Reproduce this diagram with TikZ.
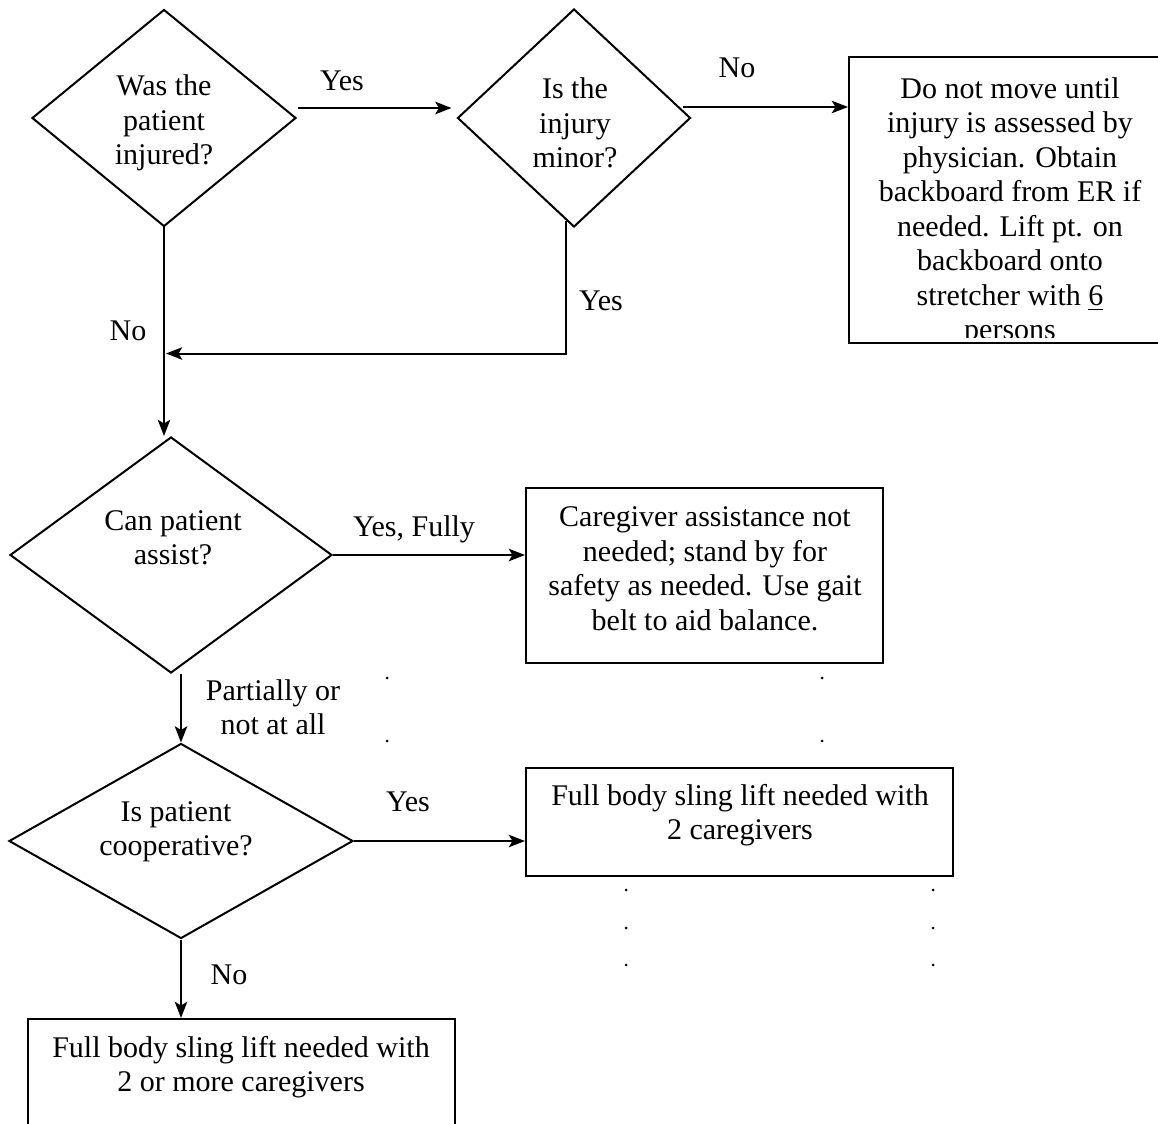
\documentclass[tikz,border=0pt]{standalone}
\usepackage{fontspec}
\setmainfont{Liberation Serif}
\usetikzlibrary{shapes.geometric,arrows,arrows.meta,positioning,calc}
\tikzstyle{decision} = [diamond, draw=black, thick, inner sep=0pt]
\tikzstyle{process} = [rectangle, draw=black, thick, inner sep=0pt]
\tikzstyle{txt} = [font=\fontsize{12}{13.8}\selectfont, align=center, inner sep=0pt]
\tikzstyle{arrow} = [thick,->,>={Stealth[length=6.5pt,width=5pt,inset=1.5pt]}]

\begin{document}
\begin{tikzpicture}[x=0.4pt,y=-0.4pt]
        \useasboundingbox (0,0) rectangle (1158,1124);
        \clip (0,0) rectangle (1158,1124);
        % questions
        \node[decision, minimum width=105.6pt, minimum height=86.8pt] (d1) at (164,118) {};
        \node[decision, minimum width=93.2pt, minimum height=87.2pt] (d2) at (574,118) {};
        \node[decision, minimum width=128.8pt, minimum height=94.4pt] (d3) at (171,555) {};
        \node[decision, minimum width=137.6pt, minimum height=78pt] (d4) at (181,841) {};
        \node[txt] (q1) at (164,123) {Was the\\patient\\injured?};
        \node[txt] (q2) at (575,123) {Is the\\injury\\minor?};
        \node[txt] (q3) at (173,538) {Can patient\\assist?};
        \node[txt] (q4) at (176,832) {Is patient\\cooperative?};
        % actions
        \node[process, minimum width=128.4pt, minimum height=114.4pt] (b1) at (1009.5,200) {};
        \node[process, minimum width=142.8pt, minimum height=70pt] (b2) at (704.5,575.5) {};
        \node[process, minimum width=170.8pt, minimum height=43.2pt] (b3) at (739.5,822) {};
        \node[process, minimum width=170.8pt, minimum height=48.4pt] (b4) at (241.5,1079.5) {};
        \begin{scope}
          \clip ($(b1.north west)+(2,0)$) rectangle ($(b1.south east)+(0,-7)$);
          \node[txt] (t1) at (1010,212) {Do not move until\\injury is assessed by\\physician. Obtain\\backboard from ER if\\needed. Lift pt. on\\backboard onto\\stretcher with \underline{6}\\persons};
        \end{scope}
        \node[txt] (t2) at (705,569) {Caregiver assistance not\\needed; stand by for\\safety as needed. Use gait\\belt to aid balance.};
        \node[txt] (t3) at (740,815) {Full body sling lift needed with\\2 caregivers};
        \node[txt] (t4) at (241,1067) {Full body sling lift needed with\\2 or more caregivers};
        % connectors
        \draw[arrow] ($(d1.east)+(1,-10)$) -- ($(d2.west)+(-5,-10)$);
        \coordinate (n2) at ($(d2.east)+(-9,-11)$);
        \draw[arrow] (n2) -- (n2 -| b1.west);
        \draw[arrow] ($(d2.south)+(-8,-7)$) |- ($(d1.south)+(2,126)$);
        \draw[arrow] (d1.south) -- (d1.south |- d3.north);
        \draw[arrow] (d3.east) -- (d3.east -| b2.west);
        \draw[arrow] (d3.south -| d4.north) -- (d4.north);
        \draw[arrow] (d4.east) -- (d4.east -| b3.west);
        \draw[arrow] (d4.south) -- (d4.south |- b4.north);
        % labels
        \node[txt] (l1) at (342,81) {Yes};
        \node[txt] (l2) at (737,68) {No};
        \node[txt] (l3) at (601,301) {Yes};
        \node[txt] (l4) at (128,331) {No};
        \node[txt] (l5) at (414,529) {Yes, Fully};
        \node[txt] (l6) at (273,707) {Partially or\\not at all};
        \node[txt] (l7) at (408,802) {Yes};
        \node[txt] (l8) at (229,975) {No};
        % stray dots
        \foreach \x/\y in {387/678, 387/741, 822/678, 822/741, 626/890, 626/928, 626/965, 933/890, 933/928, 933/965}
          \fill (\x,\y) circle (0.6pt);
\end{tikzpicture}
\end{document}
